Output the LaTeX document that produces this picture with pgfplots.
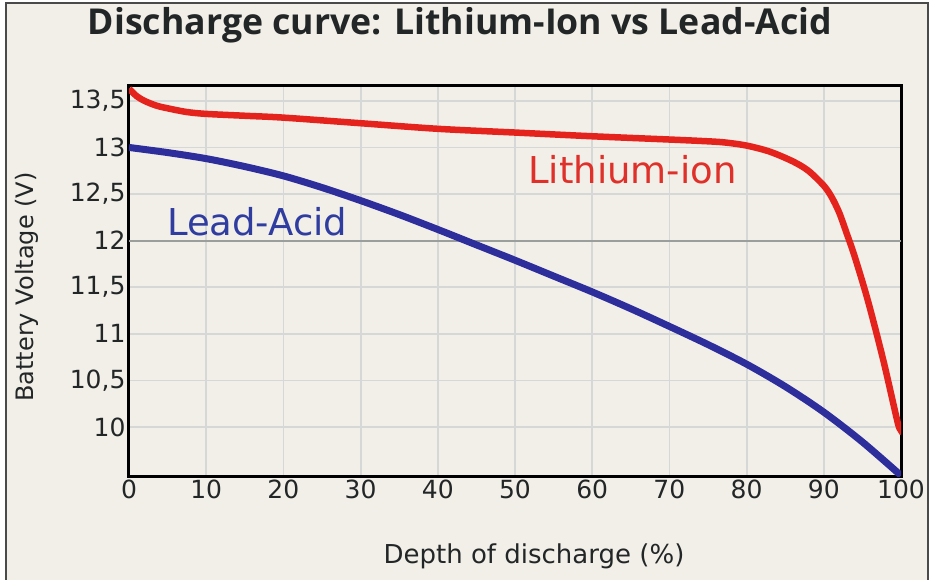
\documentclass[border=0pt]{standalone}
\usepackage{pgfplots}
\pgfplotsset{compat=1.18}
\usepackage{graphicx}
\usepackage{fontspec}
\setmainfont{DejaVu Sans}
\newfontfamily\titlefont{Open Sans}
\definecolor{bg}{HTML}{F2EFE9}
\definecolor{framec}{HTML}{4A4A4A}
\definecolor{gridc}{HTML}{D5D8D7}
\definecolor{line12}{HTML}{9A9E9D}
\definecolor{redc}{HTML}{E5231D}
\definecolor{bluec}{HTML}{2D2E9C}
\definecolor{redt}{HTML}{E0302A}
\definecolor{bluet}{HTML}{2F3CA0}
\definecolor{textc}{HTML}{222626}
\begin{document}
\begin{tikzpicture}[x=1pt,y=1pt]
\useasboundingbox (0,0) rectangle (930,579);
\fill[white] (0,0) rectangle (930,579);
\fill[bg] (6,-5) rectangle (928,576);
\draw[framec, line width=1.5pt] (6,-5) rectangle (928,576);
\node[anchor=base, inner sep=0pt, text=textc] at (460,544) {\resizebox{744pt}{!}{\titlefont\bfseries Discharge curve: Lithium-Ion vs Lead-Acid}};
\node[rotate=90, anchor=base, inner sep=0pt, text=textc] at (33,292) {\fontsize{24}{24}\selectfont Battery Voltage (V)};
\node[anchor=base, inner sep=0pt, text=textc] at (534,16) {\fontsize{26}{26}\selectfont Depth of discharge (\%)};
\begin{axis}[
  at={(129pt,103pt)}, anchor=south west,
  scale only axis, width=772pt, height=391pt,
  xmin=0, xmax=100, ymin=9.475, ymax=13.67,
  xtick={0,10,20,30,40,50,60,70,80,90,100},
  xticklabels={0,10,20,30,40,50,60,70,80,90,100},
  ytick={10,10.5,11,11.5,12,12.5,13,13.5},
  yticklabels={10,{10,5},11,{11,5},12,{12,5},13,{13,5}},
  grid=major, major grid style={gridc, line width=1.8pt},
  axis line style={black, line width=3pt},
  major tick length=0pt,
  tick label style={font=\fontsize{25}{25}\selectfont, text=textc},
  /pgf/number format/assume math mode=true,
  axis background/.style={fill=bg},
]
\addplot[line12, line width=2pt, forget plot] coordinates {(0,12) (100,12)};
\addplot[bluec, line width=7pt, smooth, line cap=butt] coordinates {
(0,13.0) (5,12.945) (10,12.88) (15,12.795) (20,12.695) (25,12.57) (30,12.43)
(35,12.28) (40,12.12) (45,11.955) (50,11.79) (55,11.62) (60,11.45) (65,11.27)
(70,11.08) (75,10.885) (80,10.675) (85,10.435) (90,10.16) (95,9.84) (100,9.48)};
\addplot[redc, line width=6.5pt, smooth, line cap=butt] coordinates {
(0,13.63) (1,13.55) (2,13.50) (3.5,13.45) (5,13.42) (7.5,13.38) (10,13.36)
(15,13.34) (20,13.32) (30,13.26) (40,13.20) (50,13.16) (60,13.12) (70,13.085)
(74,13.07) (77,13.055) (80,13.02) (83,12.955) (86,12.85) (88,12.75)
(90,12.59) (91,12.47) (92,12.30) (93,12.07) (94,11.83) (95.7,11.36)
(97.7,10.72) (99.6,10.04) (100,9.98)};
\node[anchor=base, text=bluet, inner sep=0pt] at (axis cs:16.6,12.06) {\fontsize{37}{37}\selectfont Lead-Acid};
\node[anchor=base, text=redt, inner sep=0pt] at (axis cs:65.2,12.61) {\fontsize{37}{37}\selectfont Lithium-ion};
\end{axis}
\end{tikzpicture}
\end{document}
